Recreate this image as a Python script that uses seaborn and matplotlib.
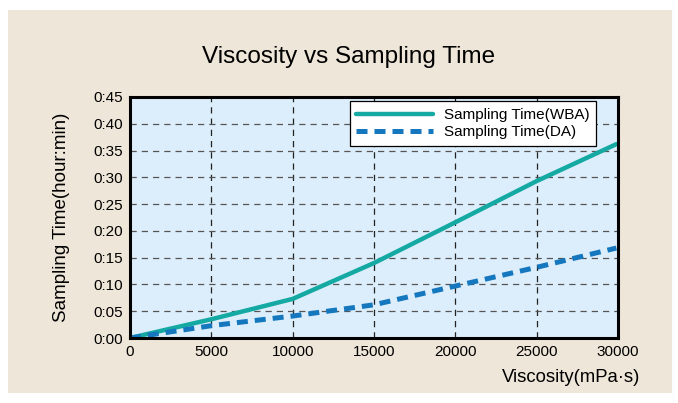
import matplotlib
matplotlib.use('Agg')
import matplotlib.pyplot as plt
import seaborn as sns
import pandas as pd
from matplotlib.patches import Rectangle
from matplotlib.lines import Line2D

# viscosity (mPa·s) and sampling time (minutes)
viscosity = [0, 5000, 10000, 15000, 20000, 25000, 29900]
time_wba = [0, 3.5, 7.3, 14.0, 21.6, 29.3, 36.2]
time_da = [0, 2.3, 4.1, 6.2, 9.7, 13.2, 16.8]
ytick_labels = ['0:00', '0:05', '0:10', '0:15', '0:20', '0:25', '0:30', '0:35', '0:40', '0:45']

sns.set_style('white')
plt.rcParams['font.family'] = ['Liberation Sans', 'DejaVu Sans']
plt.rcParams['text.color'] = 'black'
plt.rcParams['xtick.color'] = 'black'
plt.rcParams['ytick.color'] = 'black'
plt.rcParams['axes.labelcolor'] = 'black'

df = pd.DataFrame({'Viscosity': viscosity * 2,
                   'Time': time_wba + time_da,
                   'Series': ['Sampling Time(WBA)'] * len(viscosity) + ['Sampling Time(DA)'] * len(viscosity)})

fig = plt.figure(figsize=(6.78, 4.03), dpi=100)
fig.patch.set_facecolor('white')
fig.patches.append(Rectangle((8 / 678, 10 / 403), 664 / 678, 383 / 403, transform=fig.transFigure,
                             facecolor='#EEE6D8', edgecolor='none', zorder=-10))
ax = fig.add_axes([130 / 678, 1 - 338 / 403, 488 / 678, 241 / 403])
ax.set_facecolor('#DCEEFB')

palette = {'Sampling Time(WBA)': '#14A9A2', 'Sampling Time(DA)': '#1577BE'}
sns.lineplot(data=df, x='Viscosity', y='Time', hue='Series', palette=palette, ax=ax, linewidth=3.2,
             legend=False)
ax.lines[1].set_linestyle((0, (2.2, 1.4)))
ax.lines[1].set_linewidth(3.6)

ax.set_xlim(0, 30000)
ax.set_ylim(0, 45)
ax.set_xticks(range(0, 30001, 5000))
ax.set_yticks(range(0, 46, 5))
ax.set_yticklabels(ytick_labels)
ax.tick_params(length=0, labelsize=11, pad=5)

# dashed grid
for x in range(5000, 30000, 5000):
    ax.axvline(x, color='#222222', linestyle=(0, (5, 4)), linewidth=0.9, zorder=1)
for y in range(5, 45, 5):
    ax.axhline(y, color='#555555', linestyle=(0, (5, 4)), linewidth=0.9, zorder=1)

for s in ax.spines.values():
    s.set_color('black')
    s.set_linewidth(2.2)

ax.set_xlabel('')
ax.set_ylabel('')
fig.text(62 / 678, 1 - 217 / 403, 'Sampling Time(hour:min)', fontsize=13.5, rotation=90,
         ha='center', va='center')
fig.text(640 / 678, 1 - 378 / 403, 'Viscosity(mPa·s)', fontsize=13.3, ha='right', va='center')
fig.text(349 / 678, 1 - 57 / 403, 'Viscosity vs Sampling Time', fontsize=17.5,
         ha='center', va='center')

handles = [Line2D([], [], color='#14A9A2', linewidth=3.2),
           Line2D([], [], color='#1577BE', linewidth=3.6, linestyle=(0, (2.2, 1.4)))]
leg = ax.legend(handles, ['Sampling Time(WBA)', 'Sampling Time(DA)'], loc='upper right',
                bbox_to_anchor=(0.955, 0.983), fontsize=11, frameon=True, fancybox=False,
                handlelength=5.0, borderpad=0.45, labelspacing=0.2, handletextpad=0.7,
                borderaxespad=0)
leg.get_frame().set_edgecolor('black')
leg.get_frame().set_linewidth(0.9)
leg.get_frame().set_facecolor('white')
leg.get_frame().set_alpha(1)

fig.savefig('out.png', dpi=100)
